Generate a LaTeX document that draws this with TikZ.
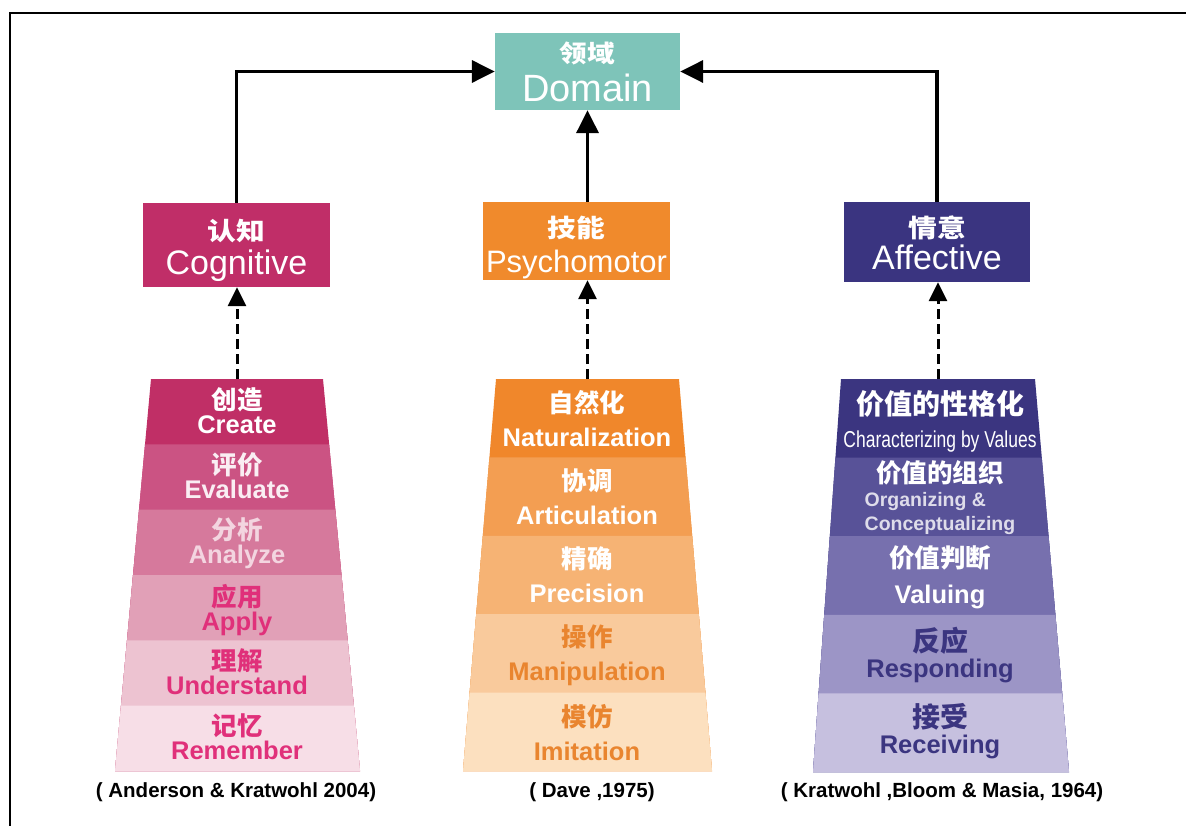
\documentclass[tikz,border=0pt]{standalone}
\usepackage{fontspec}
\setmainfont{Liberation Sans}
\newfontfamily\zh{Noto Sans CJK SC}
\newfontfamily\zhwide[FakeStretch=1.15]{Noto Sans CJK SC}
\newfontfamily\narrowfont[FakeStretch=0.76]{Liberation Sans}
\usepackage{xcolor}
\usepackage{tikz}
\usetikzlibrary{arrows.meta, calc, positioning}
\tikzset{
    headbox/.style={fill=#1, minimum width=187pt, inner sep=0pt},
    headzh/.style={anchor=base, inner sep=0pt, text=white, font=\zhwide\bfseries\fontsize{25}{25}\selectfont},
    headen/.style={anchor=base, inner sep=0pt, text=white, font=\fontsize{34}{34}\selectfont},
    bandtext/.style={align=center, text depth=0pt, inner sep=0pt, font=\bfseries\fontsize{25.5}{#1}\selectfont},
    reftext/.style={inner sep=0pt, font=\bfseries\fontsize{20.5}{20.5}\selectfont}
}
\definecolor{DomainTeal}{HTML}{7EC4B9}
\definecolor{CogRed}{HTML}{C02E68}
\definecolor{PsyOrange}{HTML}{F08A2C}
\definecolor{AffBlue}{HTML}{3A3480}
\definecolor{CogA}{HTML}{C02F66}
\definecolor{CogB}{HTML}{CB5383}
\definecolor{CogC}{HTML}{D6799C}
\definecolor{CogD}{HTML}{E1A0B7}
\definecolor{CogE}{HTML}{EDC3D1}
\definecolor{CogF}{HTML}{F7DEE7}
\definecolor{PsyA}{HTML}{F0872B}
\definecolor{PsyB}{HTML}{F39E52}
\definecolor{PsyC}{HTML}{F6B374}
\definecolor{PsyD}{HTML}{F9CA9C}
\definecolor{PsyE}{HTML}{FCE0BF}
\definecolor{AffA}{HTML}{3B3580}
\definecolor{AffB}{HTML}{585298}
\definecolor{AffC}{HTML}{7770AE}
\definecolor{AffD}{HTML}{9C95C6}
\definecolor{AffE}{HTML}{C6C0DF}
\definecolor{CogInk}{HTML}{E0307A}
\definecolor{PsyInk}{HTML}{E9852F}
\definecolor{AffInk}{HTML}{3B3580}

\begin{document}
\begin{tikzpicture}[x=1pt, y=-1pt]
\tikzset{
    mainarrow/.style={line width=3.5pt, -{Triangle[length=23pt,width=22pt]}},
    dasharrow/.style={line width=3pt, dash pattern=on 10pt off 5pt, -{Triangle[length=19pt,width=18pt]}}
}
  \useasboundingbox (0,0) rectangle (1186,826);
  \draw[line width=2.5pt] (10,826) -- (10,13) -- (1186,13);

  % top boxes
  \node[headbox=DomainTeal, minimum width=185pt, minimum height=77pt] (domain) at (587.5,71.5) {};
  \node[headzh, font=\zhwide\bfseries\fontsize{24}{24}\selectfont] (domainzh) at (587.5,63) {领域};
  \node[headen, font=\fontsize{38}{38}\selectfont] (domainen) at (587.5,102) {Domain};

  \node[headbox=CogRed, minimum height=84pt] (cog) at (236.5,245) {};
  \node[headzh] (cogzh) at (236.5,241) {认知};
  \node[headen] (cogen) at (236.5,275) {Cognitive};

  \node[headbox=PsyOrange, minimum height=78pt] (psy) at (576.5,241) {};
  \node[headzh] (psyzh) at (576.5,238) {技能};
  \node[headen, font=\fontsize{31}{31}\selectfont] (psyen) at (576.5,273) {Psychomotor};

  \node[headbox=AffBlue, minimum width=186pt, minimum height=80pt] (aff) at (937,242) {};
  \node[headzh] (affzh) at (937,238) {情意};
  \node[headen] (affen) at (937,270) {Affective};

  % pyramids
  \coordinate (cogTL) at (151,379);
  \coordinate (cogTR) at (323,379);
  \coordinate (cogBL) at (115,771);
  \coordinate (cogBR) at (360,771);
  \foreach \col [count=\i from 0] in {CogA,CogB,CogC,CogD,CogE,CogF}
    \fill[\col] ($(cogTL)!{\i/6}!(cogBL)$) -- ($(cogTR)!{\i/6}!(cogBR)$) -- (cogBR) -- (cogBL) -- cycle;

  \coordinate (psyTL) at (496,379);
  \coordinate (psyTR) at (679,379);
  \coordinate (psyBL) at (463,771);
  \coordinate (psyBR) at (712,771);
  \foreach \col [count=\i from 0] in {PsyA,PsyB,PsyC,PsyD,PsyE}
    \fill[\col] ($(psyTL)!{\i/5}!(psyBL)$) -- ($(psyTR)!{\i/5}!(psyBR)$) -- (psyBR) -- (psyBL) -- cycle;

  \coordinate (affTL) at (841,379);
  \coordinate (affTR) at (1035,379);
  \coordinate (affBL) at (813,772);
  \coordinate (affBR) at (1069,772);
  \foreach \col [count=\i from 0] in {AffA,AffB,AffC,AffD,AffE}
    \fill[\col] ($(affTL)!{\i/5}!(affBL)$) -- ($(affTR)!{\i/5}!(affBR)$) -- (affBR) -- (affBL) -- cycle;

  \coordinate (cogtop) at ($(cogTL)!0.5!(cogTR)$);
  \coordinate (psytop) at ($(psyTL)!0.5!(psyTR)$);
  \coordinate (afftop) at ($(affTL)!0.5!(affTR)$);

  % levels
  \node[bandtext=24, text=white] (create) at (237,411) {{\zh 创造}\\Create};
  \node[bandtext=24, text=white!92!CogA] (evaluate) at (237,476) {{\zh 评价}\\Evaluate};
  \node[bandtext=24, text=white!80!CogA] (analyze) at (237,541) {{\zh 分析}\\Analyze};
  \node[bandtext=24, text=CogInk] (apply) at (237,607) {{\zh 应用}\\Apply};
  \node[bandtext=24, text=CogInk] (understand) at (237,672) {{\zh 理解}\\Understand};
  \node[bandtext=24, text=CogInk] (remember) at (237,737) {{\zh 记忆}\\Remember};

  \node[bandtext=34, text=white] (naturalization) at (587,418) {{\zh 自然化}\\Naturalization};
  \node[bandtext=34, text=white] (articulation) at (587,497) {{\zh 协调}\\Articulation};
  \node[bandtext=34, text=white] (precision) at (587,575) {{\zh 精确}\\Precision};
  \node[bandtext=34, text=PsyInk] (manipulation) at (587,653) {{\zh 操作}\\Manipulation};
  \node[bandtext=34, text=PsyInk] (imitation) at (587,732) {{\zh 模仿}\\Imitation};

  \node[bandtext=33, text=white] (characterizing) at (940,419)
    {{\zh\fontsize{28}{28}\selectfont 价值的性格化}\\{\narrowfont\mdseries\fontsize{23}{23}\selectfont Characterizing by Values}};
  \node[bandtext=24, text=white] (organizing) at (940,496)
    {{\zh 价值的组织}\\{\color{white!80!AffB}\fontsize{19.5}{19.5}\selectfont\rlap{Organizing \&}\phantom{Conceptualizing}}\\{\color{white!80!AffB}\fontsize{19.5}{19.5}\selectfont Conceptualizing}};
  \node[bandtext=36, text=white] (valuing) at (940,574) {{\zh 价值判断}\\Valuing};
  \node[bandtext=26, text=AffInk] (responding) at (940,652) {{\zh\fontsize{28}{28}\selectfont 反应}\\Responding};
  \node[bandtext=26, text=AffInk] (receiving) at (940,728) {{\zh\fontsize{28}{28}\selectfont 接受}\\Receiving};

  % sources
  \node[reftext] (cogref) at (236,792) {( Anderson \& Kratwohl 2004)};
  \node[reftext] (psyref) at (592,792) {( Dave ,1975)};
  \node[reftext] (affref) at (942,792) {( Kratwohl ,Bloom \& Masia, 1964)};

  % connectors
  \draw[dasharrow] (cogtop) -- (cogtop |- cog.south);
  \draw[dasharrow] (psytop) -- (psytop |- psy.south);
  \draw[dasharrow] (afftop) -- (afftop |- aff.south);
  \draw[mainarrow] (cog.north) |- (domain.west);
  \draw[mainarrow] (domain.south |- psy.north) -- (domain.south);
  \draw[mainarrow] (aff.north) |- (domain.east);
\end{tikzpicture}
\end{document}
